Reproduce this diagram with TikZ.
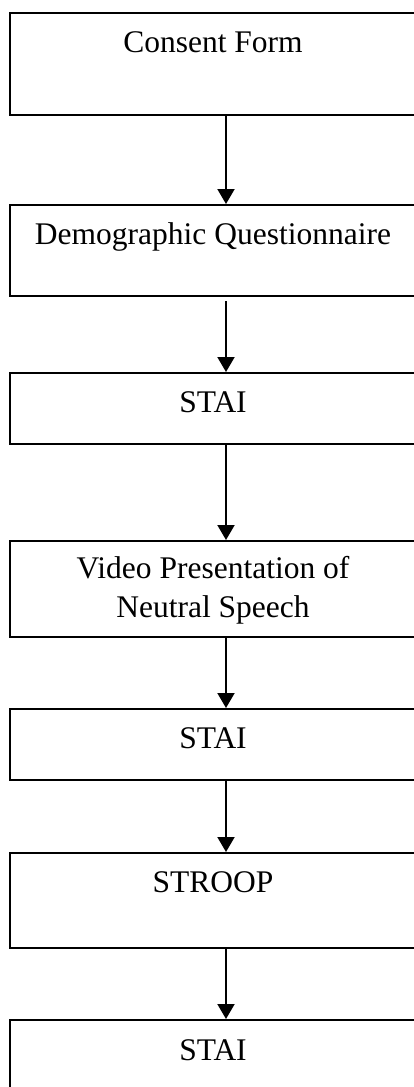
\documentclass[tikz,border=0pt]{standalone}
\usepackage{fontspec}
\setmainfont{Liberation Serif}
\usetikzlibrary{arrows.meta}
\begin{document}
\begin{tikzpicture}[x=1pt,y=-1pt,
  stepbox/.style={draw=black,line width=2pt,minimum width=406pt,inner sep=0pt,anchor=north},
  lbl/.style={anchor=base,inner sep=0pt,font=\fontsize{31.5}{39}\selectfont,align=center},
  flow/.style={line width=2pt,-{Triangle[length=15pt,width=17pt]}}]
\useasboundingbox (0,0) rectangle (413,1087);
% boxes
\node[stepbox,minimum height=102pt] (b1) at (213,12) {};
\node[stepbox,minimum height=91pt]  (b2) at (213,204) {};
\node[stepbox,minimum height=71pt]  (b3) at (213,372) {};
\node[stepbox,minimum height=96pt]  (b4) at (213,540) {};
\node[stepbox,minimum height=71pt]  (b5) at (213,708) {};
\node[stepbox,minimum height=95pt]  (b6) at (213,852) {};
\node[stepbox,minimum height=100pt] (b7) at (213,1019) {};
% labels
\node[lbl] (t1) at (213,52) {Consent Form};
\node[lbl] (t2) at (213,244) {Demographic Questionnaire};
\node[lbl] (t3) at (213,412) {STAI};
\node[lbl] (t4a) at (213,578) {Video Presentation of};
\node[lbl] (t4b) at (213,617) {Neutral Speech};
\node[lbl] (t5) at (213,748) {STAI};
\node[lbl] (t6) at (213,892) {STROOP};
\node[lbl] (t7) at (213,1060) {STAI};
% connectors
\draw[flow] (b1.south -| 226,0) -- (b2.north -| 226,0);
\draw[flow] ([yshift=-4pt]b2.south -| 226,0) -- (b3.north -| 226,0);
\draw[flow] (b3.south -| 226,0) -- (b4.north -| 226,0);
\draw[flow] (b4.south -| 226,0) -- (b5.north -| 226,0);
\draw[flow] (b5.south -| 226,0) -- (b6.north -| 226,0);
\draw[flow] (b6.south -| 226,0) -- (b7.north -| 226,0);
\end{tikzpicture}
\end{document}
